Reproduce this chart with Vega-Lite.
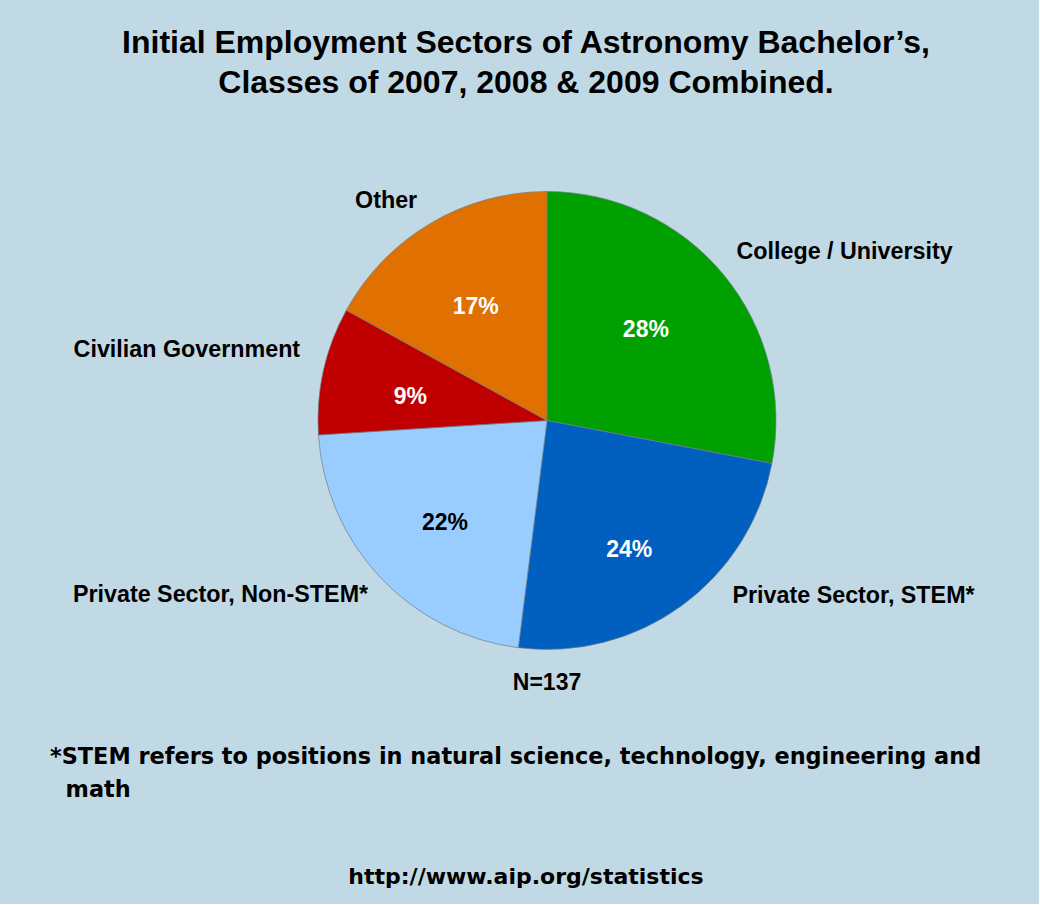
{
  "$schema": "https://vega.github.io/schema/vega-lite/v6.json",
  "background": "#C1D9E5",
  "padding": {"left": 50, "top": 26.5, "right": 39, "bottom": 15},
  "spacing": 0,
  "bounds": "flush",
  "config": {"view": {"stroke": null}, "font": "Liberation Sans"},
  "title": {
    "text": ["Initial Employment Sectors of Astronomy Bachelor’s,", "Classes of 2007, 2008 & 2009 Combined."],
    "font": "Liberation Sans", "fontSize": 32, "fontWeight": "bold", "color": "#000000",
    "lineHeight": 39.5, "anchor": "middle", "frame": "group", "dx": -21, "offset": 58.5
  },
  "vconcat": [
    {
      "width": 906,
      "height": 498,
      "title": {"text": "N=137", "orient": "bottom", "anchor": "middle", "frame": "group", "font": "Liberation Sans", "fontSize": 23, "fontWeight": "bold", "color": "#000000", "offset": 2.3},
      "data": {"values": [
        {"sector": "College / University", "share": 0.28},
        {"sector": "Private Sector, STEM*", "share": 0.24},
        {"sector": "Private Sector, Non-STEM*", "share": 0.22},
        {"sector": "Civilian Government", "share": 0.09},
        {"sector": "Other", "share": 0.17}
      ]},
      "transform": [{"stack": "share", "groupby": [], "as": ["s0", "s1"]}],
      "encoding": {
        "theta": {"field": "share", "type": "quantitative", "stack": true, "scale": {"domain": [0, 1]}},
        "order": {"field": "s0", "type": "quantitative"}
      },
      "layer": [
        {
          "mark": {"type": "arc", "outerRadius": 229, "stroke": "#6f7f88", "strokeWidth": 0.7},
          "encoding": {
            "color": {"field": "sector", "type": "nominal", "legend": null,
              "scale": {"domain": ["College / University", "Private Sector, STEM*", "Private Sector, Non-STEM*", "Civilian Government", "Other"],
                        "range": ["#00A000", "#005FBF", "#99CCFF", "#C00000", "#E07000"]}}
          }
        },
        {
          "mark": {"type": "text", "radius": 140, "dy": 7, "font": "Liberation Sans", "fontSize": 23, "fontWeight": "bold", "align": "center", "baseline": "middle"},
          "encoding": {
            "text": {"field": "share", "type": "quantitative", "format": ".0%", "condition": {"test": "datum.sector === 'College / University' || datum.sector === 'Private Sector, STEM*'", "value": ""}},
            "color": {"condition": {"test": "datum.sector === 'Private Sector, Non-STEM*'", "value": "#000000"}, "value": "#FFFFFF"}
          }
        },
        {
          "mark": {"type": "text", "radius": 140, "dx": -9, "dy": -1, "font": "Liberation Sans", "fontSize": 23, "fontWeight": "bold", "align": "center", "baseline": "middle", "color": "#FFFFFF"},
          "encoding": {
            "text": {"field": "share", "type": "quantitative", "format": ".0%", "condition": {"test": "datum.sector !== 'College / University'", "value": ""}}
          }
        },
        {
          "mark": {"type": "text", "radius": 140, "dy": 16, "font": "Liberation Sans", "fontSize": 23, "fontWeight": "bold", "align": "center", "baseline": "middle", "color": "#FFFFFF"},
          "encoding": {
            "text": {"field": "share", "type": "quantitative", "format": ".0%", "condition": {"test": "datum.sector !== 'Private Sector, STEM*'", "value": ""}}
          }
        },
        {
          "mark": {"type": "text", "radius": 255, "dx": -7, "dy": -5.6, "font": "Liberation Sans", "fontSize": 23.3, "fontWeight": "bold", "align": "left", "baseline": "middle", "color": "#000000"},
          "encoding": {"text": {"field": "sector", "type": "nominal", "condition": {"test": "datum.sector !== 'College / University'", "value": ""}}}
        },
        {
          "mark": {"type": "text", "radius": 255, "dx": 35.6, "dy": -31, "font": "Liberation Sans", "fontSize": 23.3, "fontWeight": "bold", "align": "left", "baseline": "middle", "color": "#000000"},
          "encoding": {"text": {"field": "sector", "type": "nominal", "condition": {"test": "datum.sector !== 'Private Sector, STEM*'", "value": ""}}}
        },
        {
          "mark": {"type": "text", "radius": 255, "dx": 7, "font": "Liberation Sans", "fontSize": 23.3, "fontWeight": "bold", "align": "right", "baseline": "middle", "color": "#000000"},
          "encoding": {"text": {"field": "sector", "type": "nominal", "condition": {"test": "datum.sector !== 'Private Sector, Non-STEM*'", "value": ""}}}
        },
        {
          "mark": {"type": "text", "radius": 255, "dx": 2, "dy": -15, "font": "Liberation Sans", "fontSize": 23.3, "fontWeight": "bold", "align": "right", "baseline": "middle", "color": "#000000"},
          "encoding": {"text": {"field": "sector", "type": "nominal", "condition": {"test": "datum.sector !== 'Civilian Government'", "value": ""}}}
        },
        {
          "mark": {"type": "text", "radius": 255, "font": "Liberation Sans", "fontSize": 23.3, "fontWeight": "bold", "align": "right", "baseline": "middle", "color": "#000000"},
          "encoding": {"text": {"field": "sector", "type": "nominal", "condition": {"test": "datum.sector !== 'Other'", "value": ""}}}
        }
      ]
    },
    {
      "width": 906,
      "height": 60,
      "data": {"values": []},
      "mark": "text",
      "title": {"text": ["*STEM refers to positions in natural science, technology, engineering and", "\u200b\u00a0\u00a0math"], "orient": "bottom", "anchor": "start", "frame": "group", "dx": -44, "offset": 16.5, "font": "DejaVu Sans", "fontSize": 22.4, "fontWeight": "bold", "lineHeight": 33, "color": "#000000"}
    },
    {
      "width": 906,
      "height": 100,
      "data": {"values": []},
      "mark": "text",
      "title": {"text": "http://www.aip.org/statistics", "orient": "bottom", "anchor": "middle", "frame": "group", "dx": -21, "offset": 37.2, "font": "DejaVu Sans", "fontSize": 22, "fontWeight": "bold", "color": "#000000"}
    }
  ]
}
